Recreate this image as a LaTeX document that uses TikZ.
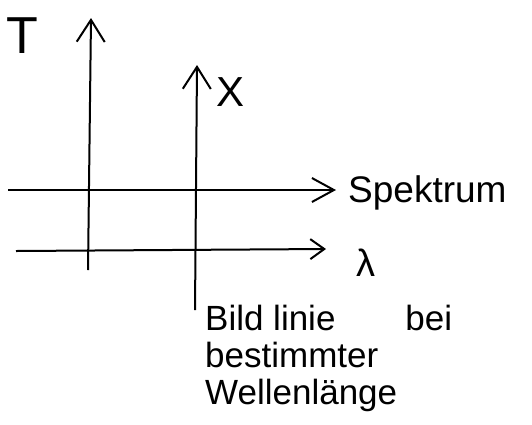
\documentclass[tikz,border=0pt]{standalone}
\usepackage{fontspec}
\setmainfont{Liberation Sans}
\usetikzlibrary{arrows.meta}
\begin{document}
\begin{tikzpicture}[x=1pt,y=-1pt,
  axis/.style={line width=2pt,-{Straight Barb[length=22pt,width=28pt,line width=2pt]}},
  haxis/.style={line width=2pt,-{Straight Barb[length=22pt,width=24pt,line width=2pt]}},
  haxisb/.style={line width=2pt,-{Straight Barb[length=14pt,width=20pt,line width=2pt]}},
  lbl/.style={inner sep=0pt,anchor=base west},
  note/.style={inner sep=0pt,anchor=base west,align=left,font=\fontsize{35}{37}\selectfont}]
\useasboundingbox (0,0) rectangle (532,424);
% axes end points
\coordinate (tbot) at (88,270);
\coordinate (ttop) at (91,18);
\coordinate (xbot) at (195,310);
\coordinate (xtop) at (197,65);
\coordinate (sl) at (8,190);
\coordinate (sr) at (336,190);
\coordinate (ll) at (16,251);
\coordinate (lr) at (326,249);
\draw[axis] (tbot) -- (ttop);
\draw[axis] (xbot) -- (xtop);
\draw[haxis] (sl) -- (sr);
\draw[haxisb] (ll) -- (lr);
% labels
\node[lbl,font=\fontsize{52}{52}\selectfont] (T) at (6,53) {T};
\node[lbl,font=\fontsize{42}{42}\selectfont] (X) at (216,106) {X};
\node[lbl,font=\fontsize{37}{37}\selectfont] (spek) at (348,202) {Spektrum};
\node[lbl,font=\fontsize{38}{38}\selectfont] (lam) at (356,276) {λ};
\node[note] (txt) at (205,404) {Bild linie\hspace{70pt}bei\\bestimmter\\Wellenlänge};
\end{tikzpicture}
\end{document}
